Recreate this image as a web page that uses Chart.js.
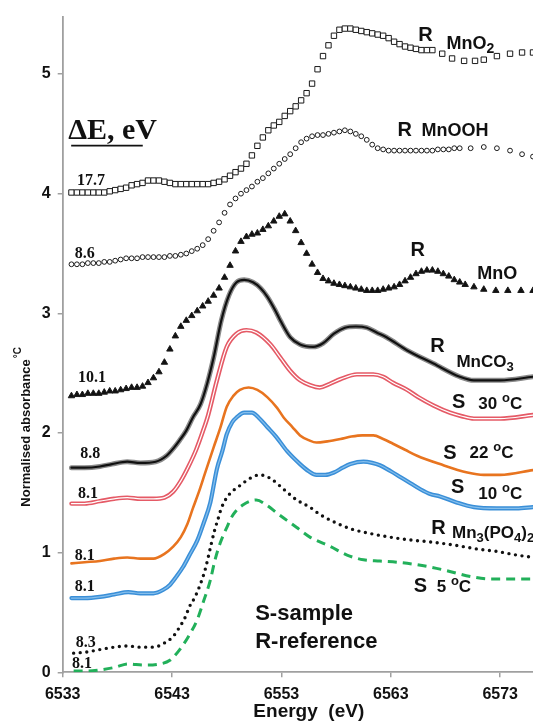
<!DOCTYPE html>
<html>
<head>
<meta charset="utf-8">
<title>Mn K-edge XANES</title>
<script src="https://cdn.jsdelivr.net/npm/chart.js@4.4.1/dist/chart.umd.min.js"></script>
<style>
  html, body { margin: 0; padding: 0; background: #fff; overflow: hidden; }
  #wrap { width: 533px; height: 725px; position: relative; }
</style>
</head>
<body>
<div id="wrap"><canvas id="xanesChart"></canvas></div>
<script>
// Axis ticks
const xTicks = [6533, 6543, 6553, 6563, 6573];
const yTicks = [0, 1, 2, 3, 4, 5];

// R MnO2 (open squares)
const mno2Energy = [6533.8, 6534.3, 6534.8, 6535.3, 6535.8, 6536.3, 6536.8, 6537.3, 6537.8, 6538.3,
    6538.8, 6539.3, 6539.8, 6540.3, 6540.8, 6541.3, 6541.8, 6542.3, 6542.8, 6543.3,
    6543.8, 6544.3, 6544.8, 6545.3, 6545.8, 6546.3, 6546.8, 6547.3, 6547.8, 6548.3,
    6548.8, 6549.3, 6549.8, 6550.3, 6550.8, 6551.3, 6551.8, 6552.3, 6552.8, 6553.3,
    6553.8, 6554.3, 6554.8, 6555.3, 6555.8, 6556.3, 6556.8, 6557.3, 6557.8, 6558.3,
    6558.8, 6559.3, 6559.8, 6560.3, 6560.8, 6561.3, 6561.8, 6562.3, 6562.8, 6563.3,
    6563.8, 6564.3, 6564.8, 6565.3, 6565.8, 6566.3, 6566.8, 6567.7, 6568.6, 6569.7,
    6570.7, 6571.5, 6572.7, 6573.9, 6575.0, 6576.0];
const mno2Abs = [4.01, 4.01, 4.01, 4.01, 4.01, 4.01, 4.01, 4.02, 4.03, 4.04,
    4.05, 4.07, 4.08, 4.09, 4.11, 4.11, 4.11, 4.10, 4.09, 4.08,
    4.08, 4.08, 4.08, 4.08, 4.08, 4.08, 4.09, 4.10, 4.12, 4.15,
    4.18, 4.21, 4.25, 4.32, 4.40, 4.47, 4.53, 4.57, 4.60, 4.65,
    4.69, 4.73, 4.78, 4.84, 4.92, 5.04, 5.15, 5.24, 5.32, 5.37,
    5.38, 5.38, 5.37, 5.36, 5.35, 5.34, 5.33, 5.32, 5.30, 5.27,
    5.25, 5.23, 5.22, 5.21, 5.20, 5.20, 5.20, 5.17, 5.13, 5.11,
    5.11, 5.12, 5.15, 5.17, 5.18, 5.18];

// R MnOOH (open circles)
const mnoohEnergy = [6533.8, 6534.3, 6534.8, 6535.3, 6535.8, 6536.3, 6536.8, 6537.3, 6537.8, 6538.3,
    6538.8, 6539.3, 6539.8, 6540.3, 6540.8, 6541.3, 6541.8, 6542.3, 6542.8, 6543.3,
    6543.8, 6544.3, 6544.8, 6545.3, 6545.8, 6546.3, 6546.8, 6547.3, 6547.8, 6548.3,
    6548.8, 6549.3, 6549.8, 6550.3, 6550.8, 6551.3, 6551.8, 6552.3, 6552.8, 6553.3,
    6553.8, 6554.3, 6554.8, 6555.3, 6555.8, 6556.3, 6556.8, 6557.3, 6557.8, 6558.3,
    6558.8, 6559.3, 6559.8, 6560.3, 6560.8, 6561.3, 6561.8, 6562.3, 6562.8, 6563.3,
    6563.8, 6564.3, 6564.8, 6565.3, 6565.8, 6566.3, 6566.8, 6567.3, 6567.8, 6568.3,
    6568.8, 6569.3, 6570.3, 6571.5, 6572.7, 6573.9, 6575.0, 6576.0];
const mnoohAbs = [3.41, 3.41, 3.41, 3.42, 3.42, 3.42, 3.43, 3.43, 3.44, 3.45,
    3.46, 3.46, 3.46, 3.47, 3.47, 3.47, 3.47, 3.47, 3.48, 3.48,
    3.49, 3.50, 3.52, 3.54, 3.57, 3.62, 3.69, 3.76, 3.84, 3.91,
    3.96, 4.00, 4.03, 4.06, 4.10, 4.13, 4.17, 4.21, 4.25, 4.29,
    4.33, 4.38, 4.43, 4.46, 4.48, 4.49, 4.49, 4.50, 4.51, 4.52,
    4.53, 4.52, 4.50, 4.48, 4.45, 4.41, 4.38, 4.37, 4.36, 4.36,
    4.36, 4.36, 4.36, 4.36, 4.36, 4.36, 4.36, 4.37, 4.37, 4.37,
    4.38, 4.38, 4.38, 4.39, 4.38, 4.36, 4.33, 4.31];

// R MnO (filled triangles)
const mnoEnergy = [6533.8, 6534.3, 6534.8, 6535.3, 6535.8, 6536.3, 6536.8, 6537.3, 6537.8, 6538.3,
    6538.8, 6539.3, 6539.8, 6540.3, 6540.8, 6541.3, 6541.8, 6542.3, 6542.8, 6543.3,
    6543.8, 6544.3, 6544.8, 6545.3, 6545.8, 6546.3, 6546.8, 6547.3, 6547.8, 6548.3,
    6548.8, 6549.3, 6549.8, 6550.3, 6550.8, 6551.3, 6551.8, 6552.3, 6552.8, 6553.3,
    6553.8, 6554.3, 6554.8, 6555.3, 6555.8, 6556.3, 6556.8, 6557.3, 6557.8, 6558.3,
    6558.8, 6559.3, 6559.8, 6560.3, 6560.8, 6561.3, 6561.8, 6562.3, 6562.8, 6563.3,
    6563.8, 6564.3, 6564.8, 6565.3, 6565.8, 6566.3, 6566.8, 6567.3, 6567.8, 6568.3,
    6568.8, 6569.3, 6569.8, 6570.6, 6571.5, 6572.6, 6573.7, 6574.9, 6576.0];
const mnoAbs = [2.31, 2.32, 2.32, 2.33, 2.33, 2.33, 2.34, 2.35, 2.35, 2.36,
    2.37, 2.38, 2.38, 2.39, 2.42, 2.46, 2.51, 2.59, 2.70, 2.81,
    2.89, 2.94, 2.98, 3.02, 3.06, 3.10, 3.15, 3.21, 3.30, 3.40,
    3.52, 3.60, 3.64, 3.66, 3.67, 3.70, 3.73, 3.77, 3.81, 3.83,
    3.77, 3.69, 3.59, 3.50, 3.41, 3.34, 3.29, 3.27, 3.25, 3.24,
    3.23, 3.22, 3.21, 3.20, 3.19, 3.19, 3.19, 3.20, 3.21, 3.22,
    3.24, 3.27, 3.30, 3.33, 3.35, 3.36, 3.36, 3.35, 3.33, 3.31,
    3.28, 3.26, 3.24, 3.22, 3.20, 3.19, 3.19, 3.19, 3.19];

// R MnCO3
const mnco3Energy = [6533.8, 6535.0, 6536.4, 6537.5, 6538.9, 6540.1, 6541.5, 6542.5, 6543.2, 6543.7,
    6544.3, 6544.9, 6545.6, 6546.2, 6546.8, 6547.5, 6548.2, 6548.9, 6549.6, 6550.4,
    6551.1, 6551.7, 6552.4, 6552.9, 6553.8, 6554.7, 6555.9, 6556.8, 6557.8, 6558.8,
    6559.8, 6560.8, 6561.7, 6562.6, 6564.5, 6566.9, 6569.3, 6570.6, 6573.0, 6576.0];
const mnco3Abs = [1.71, 1.71, 1.72, 1.74, 1.76, 1.75, 1.76, 1.81, 1.88, 1.94,
    2.02, 2.13, 2.24, 2.41, 2.63, 2.94, 3.15, 3.26, 3.28, 3.26,
    3.21, 3.14, 3.03, 2.94, 2.80, 2.74, 2.72, 2.75, 2.83, 2.88,
    2.89, 2.88, 2.84, 2.80, 2.69, 2.58, 2.47, 2.44, 2.44, 2.47];

// S 30 oC
const s30Energy = [6533.8, 6535.0, 6536.4, 6537.7, 6538.9, 6540.1, 6541.3, 6542.3, 6543.1, 6543.8,
    6544.5, 6545.2, 6545.8, 6546.3, 6547.1, 6548.0, 6548.9, 6549.8, 6550.7, 6552.0,
    6552.9, 6553.8, 6554.7, 6555.6, 6556.5, 6557.4, 6558.4, 6559.9, 6561.4, 6562.3,
    6563.2, 6564.5, 6565.5, 6566.9, 6568.4, 6569.5, 6570.6, 6573.0, 6576.0];
const s30Abs = [1.41, 1.41, 1.43, 1.45, 1.46, 1.45, 1.45, 1.46, 1.51, 1.60,
    1.72, 1.86, 2.01, 2.15, 2.44, 2.72, 2.83, 2.86, 2.84, 2.74,
    2.63, 2.52, 2.44, 2.40, 2.38, 2.41, 2.45, 2.49, 2.49, 2.47,
    2.42, 2.36, 2.30, 2.23, 2.17, 2.14, 2.12, 2.12, 2.15];

// S 22 oC
const s22Energy = [6533.8, 6535.0, 6536.4, 6537.7, 6538.9, 6540.1, 6541.3, 6542.3, 6543.1, 6543.8,
    6544.4, 6544.9, 6545.5, 6546.0, 6546.8, 6547.4, 6548.0, 6548.6, 6549.2, 6550.0,
    6550.8, 6551.7, 6552.6, 6553.2, 6554.0, 6554.7, 6555.5, 6556.2, 6557.2, 6558.4,
    6559.4, 6560.4, 6561.4, 6562.3, 6563.2, 6564.3, 6565.4, 6567.5, 6570.0, 6571.5,
    6573.0, 6576.0];
const s22Abs = [0.91, 0.92, 0.93, 0.95, 0.96, 0.95, 0.95, 0.99, 1.05, 1.13,
    1.24, 1.37, 1.52, 1.66, 1.88, 2.04, 2.22, 2.31, 2.36, 2.38,
    2.36, 2.30, 2.21, 2.13, 2.05, 1.98, 1.94, 1.92, 1.93, 1.95,
    1.97, 1.98, 1.98, 1.95, 1.91, 1.86, 1.81, 1.74, 1.67, 1.65,
    1.65, 1.69];

// S 10 oC
const s10Energy = [6533.8, 6535.0, 6536.4, 6537.7, 6539.0, 6540.1, 6541.3, 6542.2, 6542.8, 6543.4,
    6544.0, 6544.6, 6545.3, 6545.9, 6546.5, 6547.1, 6547.6, 6548.0, 6548.5, 6548.9,
    6549.6, 6550.3, 6550.9, 6551.7, 6552.5, 6553.5, 6554.7, 6555.5, 6556.2, 6557.0,
    6557.8, 6558.6, 6559.3, 6560.5, 6561.3, 6562.0, 6563.0, 6563.9, 6564.8, 6565.7,
    6566.6, 6567.5, 6569.0, 6570.6, 6572.7, 6574.5, 6576.0];
const s10Abs = [0.62, 0.62, 0.63, 0.65, 0.67, 0.66, 0.66, 0.69, 0.73, 0.80,
    0.88, 0.98, 1.10, 1.25, 1.42, 1.70, 1.85, 1.99, 2.09, 2.13,
    2.17, 2.17, 2.13, 2.05, 1.97, 1.85, 1.74, 1.68, 1.65, 1.65,
    1.67, 1.71, 1.74, 1.76, 1.75, 1.73, 1.68, 1.63, 1.58, 1.53,
    1.49, 1.47, 1.42, 1.38, 1.37, 1.37, 1.38];

// R Mn3(PO4)2
const po4Energy = [6534.0, 6535.2, 6536.4, 6537.7, 6538.9, 6540.1, 6541.3, 6542.2, 6543.1, 6543.7,
    6544.2, 6544.6, 6545.1, 6545.6, 6546.0, 6546.3, 6546.6, 6546.9, 6547.2, 6547.5,
    6548.0, 6548.6, 6549.2, 6550.1, 6551.0, 6552.0, 6553.2, 6554.4, 6555.6, 6556.5,
    6557.5, 6559.3, 6561.1, 6563.6, 6565.4, 6566.6, 6569.0, 6570.9, 6572.7, 6574.5,
    6576.0];
const po4Abs = [0.16, 0.17, 0.19, 0.21, 0.22, 0.21, 0.21, 0.24, 0.30, 0.38,
    0.46, 0.55, 0.63, 0.74, 0.85, 0.96, 1.08, 1.19, 1.28, 1.37,
    1.46, 1.52, 1.56, 1.62, 1.65, 1.62, 1.53, 1.44, 1.38, 1.32,
    1.27, 1.20, 1.16, 1.12, 1.10, 1.09, 1.06, 1.03, 1.01, 0.98,
    0.96];

// S 5 oC
const s5Energy = [6534.0, 6535.2, 6536.4, 6537.7, 6539.0, 6540.4, 6541.9, 6542.8, 6543.7, 6544.5,
    6545.3, 6545.9, 6546.5, 6546.9, 6547.4, 6548.0, 6548.6, 6549.5, 6550.7, 6551.6,
    6552.6, 6553.5, 6554.4, 6555.6, 6557.5, 6559.0, 6560.5, 6562.0, 6563.6, 6566.0,
    6568.1, 6570.3, 6572.1, 6573.9, 6576.0];
const s5Abs = [0.01, 0.01, 0.02, 0.04, 0.07, 0.06, 0.07, 0.10, 0.19, 0.30,
    0.44, 0.60, 0.77, 0.93, 1.08, 1.21, 1.32, 1.40, 1.44, 1.40,
    1.33, 1.27, 1.21, 1.13, 1.05, 0.98, 0.94, 0.93, 0.92, 0.89,
    0.85, 0.80, 0.78, 0.78, 0.78];

// Energy-shift numbers at the start of each curve
const shiftTexts = ["17.7", "8.6", "10.1", "8.8", "8.1", "8.1", "8.1", "8.3", "8.1"];

// Label placement (energy, absorbance) - kept apart from the curve values
const shiftSpots = [[6534.3, 4.07], [6534.1, 3.46], [6534.4, 2.43], [6534.6, 1.79], [6534.4, 1.46],
    [6534.1, 0.94], [6534.1, 0.68], [6534.2, 0.21], [6533.85, 0.04]];

const sideLabels = [
    { x: 6565.5, y: 5.28, size: 20, parts: [["R"]] },
    { x: 6568.1, y: 5.21, size: 18, parts: [["MnO"], ["2", "sub"]] },
    { x: 6563.6, y: 4.48, size: 20, parts: [["R"]] },
    { x: 6565.8, y: 4.48, size: 18, parts: [["MnOOH"]] },
    { x: 6564.8, y: 3.48, size: 20, parts: [["R"]] },
    { x: 6570.9, y: 3.29, size: 18, parts: [["MnO"]] },
    { x: 6566.6, y: 2.68, size: 20, parts: [["R"]] },
    { x: 6569.0, y: 2.55, size: 17, parts: [["MnCO"], ["3", "sub"]] },
    { x: 6568.6, y: 2.21, size: 20, parts: [["S"]] },
    { x: 6571.0, y: 2.20, size: 17, parts: [["30 "], ["o", "sup"], ["C"]] },
    { x: 6567.8, y: 1.78, size: 20, parts: [["S"]] },
    { x: 6570.2, y: 1.79, size: 17, parts: [["22 "], ["o", "sup"], ["C"]] },
    { x: 6568.5, y: 1.50, size: 20, parts: [["S"]] },
    { x: 6571.0, y: 1.45, size: 17, parts: [["10 "], ["o", "sup"], ["C"]] },
    { x: 6566.7, y: 1.16, size: 20, parts: [["R"]] },
    { x: 6568.6, y: 1.12, size: 17, parts: [["Mn"], ["3", "sub"], ["(PO"], ["4", "sub"], [")"], ["2", "sub"]] },
    { x: 6565.1, y: 0.67, size: 20, parts: [["S"]] },
    { x: 6567.2, y: 0.67, size: 17, parts: [["5 "], ["o", "sup"], ["C"]] },
    { x: 6550.6, y: 0.44, size: 22, parts: [["S-sample"]] },
    { x: 6550.6, y: 0.20, size: 22, parts: [["R-reference"]] }
];

const SANS = "'Liberation Sans', Arial, sans-serif";
const SERIF = "'Liberation Serif', 'Times New Roman', serif";

function toPoints(xs, ys) {
    return xs.map((x, i) => ({ x: x, y: ys[i] }));
}

// Marker-only reference curves
function markerSet(label, xs, ys, style, radius, fill) {
    return {
        label: label,
        data: toPoints(xs, ys),
        showLine: false,
        pointStyle: style,
        pointRadius: radius,
        pointBackgroundColor: fill,
        pointBorderColor: "#1a1a1a",
        pointBorderWidth: 1,
        order: 0
    };
}

// Smooth line curves
function lineSet(label, xs, ys, color, width, dash, cap, order) {
    return {
        label: label,
        data: toPoints(xs, ys),
        showLine: true,
        borderColor: color,
        borderWidth: width,
        borderDash: dash,
        borderCapStyle: cap,
        pointRadius: 0,
        cubicInterpolationMode: "monotone",
        fill: false,
        order: order
    };
}

// Draw text made of normal / sub / sup pieces
function drawParts(ctx, x, y, parts, size) {
    let cx = x;
    parts.forEach(p => {
        const kind = p[1] || "n";
        const s = kind === "n" ? size : Math.round(size * 0.75);
        const dy = kind === "sub" ? size * 0.22 : (kind === "sup" ? -size * 0.42 : 0);
        ctx.font = "bold " + s + "px " + SANS;
        ctx.fillText(p[0], cx, y + dy);
        cx += ctx.measureText(p[0]).width;
    });
}

const notesPlugin = {
    id: "notes",
    afterDraw(chart) {
        const ctx = chart.ctx;
        const sx = chart.scales.x;
        const sy = chart.scales.y;
        ctx.save();
        ctx.fillStyle = "#111";
        ctx.strokeStyle = "#111";
        ctx.textAlign = "left";
        ctx.textBaseline = "alphabetic";

        sideLabels.forEach(l => {
            drawParts(ctx, sx.getPixelForValue(l.x), sy.getPixelForValue(l.y), l.parts, l.size);
        });

        ctx.font = "bold 16px " + SERIF;
        shiftTexts.forEach((t, i) => {
            ctx.fillText(t, sx.getPixelForValue(shiftSpots[i][0]), sy.getPixelForValue(shiftSpots[i][1]));
        });

        // Delta E heading, underlined
        const hx = sx.getPixelForValue(6533.5);
        const hy = sy.getPixelForValue(4.46);
        ctx.font = "bold 30px " + SERIF;
        ctx.fillText("\u0394E, eV", hx, hy);
        const hw = ctx.measureText("\u0394E, eV").width;
        ctx.lineWidth = 1.6;
        ctx.beginPath();
        ctx.moveTo(hx + 3, hy + 7);
        ctx.lineTo(hx + hw * 0.84, hy + 7);
        ctx.stroke();

        // Axis titles
        ctx.font = "bold 19px " + SANS;
        ctx.textAlign = "center";
        ctx.fillText("Energy  (eV)", sx.getPixelForValue(6555.5), 717);

        ctx.translate(chart.chartArea.left - 36, sy.getPixelForValue(2.0));
        ctx.rotate(-Math.PI / 2);
        ctx.font = "bold 13px " + SANS;
        ctx.textBaseline = "middle";
        ctx.fillText("Normalised absorbance", 0, 0);
        const tw = ctx.measureText("Normalised absorbance").width;
        ctx.textAlign = "left";
        ctx.font = "bold 10px " + SANS;
        ctx.fillText("\u00b0C", tw / 2 + 1, -8);
        ctx.restore();
    }
};

function renderChart() {
    const ctx = document.getElementById("xanesChart").getContext("2d");
    const datasets = [
        markerSet("R MnO2", mno2Energy, mno2Abs, "rect", 3.8, "#fff"),
        markerSet("R MnOOH", mnoohEnergy, mnoohAbs, "circle", 2.4, "#fff"),
        markerSet("R MnO", mnoEnergy, mnoAbs, "triangle", 3.7, "#111"),
        lineSet("R MnCO3", mnco3Energy, mnco3Abs, "#111", 2.2, [], "round", 1),
        lineSet("R MnCO3 shade", mnco3Energy, mnco3Abs, "#8a8a8a", 5, [], "round", 2),
        lineSet("S 30", s30Energy, s30Abs, "#fff", 1.2, [], "round", 1),
        lineSet("S 30 edge", s30Energy, s30Abs, "#e55a66", 4.4, [], "round", 2),
        lineSet("S 22", s22Energy, s22Abs, "#e8741f", 2.6, [], "round", 1),
        lineSet("S 10", s10Energy, s10Abs, "#86bfec", 1.2, [], "round", 1),
        lineSet("S 10 edge", s10Energy, s10Abs, "#3a8fd8", 4.2, [], "round", 2),
        lineSet("R Mn3(PO4)2", po4Energy, po4Abs, "#111", 3.4, [0, 6.6], "round", 1),
        lineSet("S 5", s5Energy, s5Abs, "#22b05a", 3, [9, 6], "butt", 1)
    ];

    new Chart(ctx, {
        type: "scatter",
        data: { datasets: datasets },
        options: {
            responsive: true,
            maintainAspectRatio: false,
            animation: false,
            layout: { autoPadding: false, padding: { top: 15, left: 0, right: 0, bottom: 0 } },
            plugins: {
                legend: { display: false },
                tooltip: { enabled: false }
            },
            scales: {
                x: {
                    type: "linear",
                    min: 6533,
                    max: 6576,
                    afterBuildTicks: axis => { axis.ticks = xTicks.map(v => ({ value: v })); },
                    afterFit: scale => { scale.height = 52.7; },
                    grid: { drawOnChartArea: false, drawTicks: true, tickLength: 5, color: "#a0a0a0", lineWidth: 1.5 },
                    border: { color: "#a0a0a0", width: 1.8 },
                    ticks: {
                        padding: 8,
                        color: "#111",
                        maxRotation: 0,
                        font: { family: SANS, size: 16, weight: "bold" },
                        callback: v => String(v)
                    }
                },
                y: {
                    min: 0,
                    max: 5.48,
                    afterBuildTicks: axis => { axis.ticks = yTicks.map(v => ({ value: v })); },
                    afterFit: scale => { scale.width = 62.7; },
                    grid: { drawOnChartArea: false, drawTicks: true, tickLength: 5, color: "#a0a0a0", lineWidth: 1.5 },
                    border: { color: "#a0a0a0", width: 1.8 },
                    ticks: {
                        padding: 7,
                        color: "#111",
                        font: { family: SANS, size: 16, weight: "bold" }
                    }
                }
            }
        },
        plugins: [notesPlugin]
    });
}

document.addEventListener("DOMContentLoaded", function () {
    renderChart();
});
</script>
</body>
</html>
